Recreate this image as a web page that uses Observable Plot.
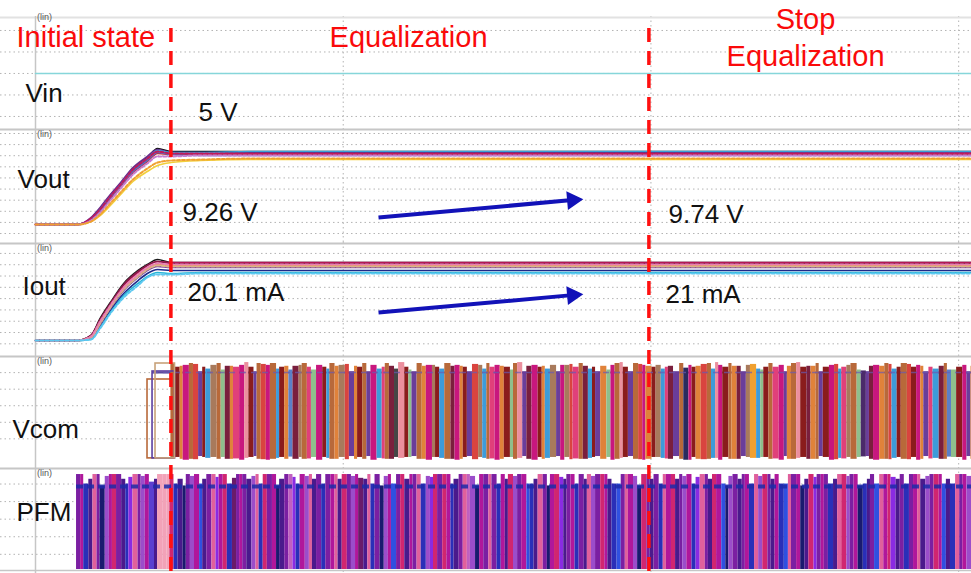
<!DOCTYPE html>
<html><head><meta charset="utf-8">
<script src="https://cdn.jsdelivr.net/npm/d3@7"></script>
<script src="https://cdn.jsdelivr.net/npm/@observablehq/plot@0.6"></script>
<style>
html,body{margin:0;padding:0;background:#fff;overflow:hidden;}
#chart svg{display:block;}
</style></head><body><div id="chart"></div>
<script>
// ================= DATA =================
// time axis: arbitrary units, 300 per vertical grid division
const tEnd = 912.5;
const timeGrid = [300, 600, 900];
const events = [132, 598];               // start / stop of equalization

// --- Vin (V)
const vinT = [0, 912.5];
const vinV = [5, 5];
const vinGrid = [1, 3, 5, 7, 9];

// --- Vout (V), one row per simulated cell
const voutT = [0, 41, 54, 63, 73, 83, 95, 109, 119, 132, 161, 210, 600, 912.5];
const voutColors = ["#141414", "#1f2a8a", "#6b2d8e", "#c2185b", "#c62828", "#5c6bc0", "#c77dd0", "#f0a030", "#f2cf3a", "#3ba0d8"];
const voutValues = [
  [4.61, 4.61, 5.03, 5.74, 6.65, 7.49, 8.54, 9.31, 9.95, 9.74, 9.74, 9.74, 9.74, 9.74],
  [4.61, 4.61, 4.96, 5.60, 6.51, 7.35, 8.40, 9.17, 9.81, 9.67, 9.67, 9.67, 9.67, 9.67],
  [4.61, 4.61, 5.10, 5.81, 6.72, 7.56, 8.61, 9.39, 9.88, 9.67, 9.60, 9.60, 9.60, 9.67],
  [4.61, 4.61, 5.03, 5.67, 6.58, 7.42, 8.47, 9.24, 9.74, 9.60, 9.60, 9.60, 9.60, 9.60],
  [4.61, 4.61, 4.96, 5.53, 6.44, 7.28, 8.26, 9.03, 9.60, 9.53, 9.53, 9.53, 9.53, 9.53],
  [4.61, 4.61, 4.96, 5.60, 6.51, 7.35, 8.33, 9.10, 9.67, 9.53, 9.46, 9.46, 9.46, 9.46],
  [4.61, 4.61, 4.89, 5.46, 6.30, 7.14, 8.12, 8.89, 9.39, 9.39, 9.46, 9.46, 9.46, 9.46],
  [4.61, 4.61, 4.82, 5.31, 6.09, 6.86, 7.77, 8.54, 8.96, 9.10, 9.17, 9.24, 9.24, 9.24],
  [4.61, 4.61, 4.82, 5.24, 5.95, 6.72, 7.63, 8.33, 8.75, 8.96, 9.10, 9.17, 9.17, 9.17],
  [4.61, 4.61, 4.96, 5.67, 6.58, 7.42, 8.47, 9.24, 9.81, 9.67, 9.67, 9.74, 9.74, 9.74]
];
const voutGrid = [3.98, 4.76, 5.54, 6.32, 7.10, 7.88, 8.66, 9.44, 10.22, 11.0];

// --- Iout (mA)
const ioutT = [0, 41, 54, 63, 73, 86, 100, 109, 119, 132, 161, 210, 600, 912.5];
const ioutColors = ["#1a1a1a", "#c2185b", "#8b1a4a", "#f0a030", "#d8b486", "#e77fb3", "#1f2a8a", "#27b4d6", "#5cc8f0", "#7b3f9e"];
const ioutValues = [
  [0, 0, 1.31, 5.83, 10.07, 15.12, 18.57, 20.16, 21.49, 20.69, 20.69, 20.69, 20.69, 20.69],
  [0, 0, 1.05, 5.29, 9.54, 14.59, 18.04, 19.89, 20.96, 20.69, 20.69, 20.69, 20.69, 20.69],
  [0, 0, 1.31, 5.56, 9.81, 14.85, 18.30, 19.89, 20.96, 20.43, 20.43, 20.43, 20.43, 20.43],
  [0, 0, 0.78, 4.76, 9.01, 13.79, 17.24, 19.10, 20.16, 19.89, 19.89, 19.89, 19.89, 19.89],
  [0, 0, 0.78, 4.50, 8.74, 13.52, 16.97, 18.83, 19.89, 19.63, 19.63, 19.63, 19.63, 19.63],
  [0, 0, 1.05, 5.03, 9.28, 14.05, 17.51, 19.36, 20.43, 20.16, 20.16, 20.16, 20.16, 20.16],
  [0, 0, 0.52, 3.97, 7.95, 12.46, 15.91, 17.77, 18.83, 18.57, 18.57, 18.57, 18.57, 18.57],
  [0, 0, 0.25, 3.44, 7.42, 11.93, 15.12, 16.97, 18.04, 17.77, 18.04, 18.04, 18.04, 18.04],
  [0, 0, 0.25, 3.17, 7.15, 11.40, 14.59, 16.71, 17.51, 17.51, 17.77, 17.77, 17.77, 17.77],
  [0, 0, 0.52, 4.23, 8.48, 13.26, 16.71, 18.57, 19.63, 19.36, 19.36, 19.36, 19.36, 19.36]
];
const ioutGrid = [-0.9, 2.1, 5.1, 8.1, 11.1, 14.1, 17.1, 20.1, 23.1];

// --- Vcom (V): switching pulses, one trace key per pulse
const vcomKeys   = ["a","b","c","d","e","f","g","h","i","j","k","l","m","n","o","p","q","r"];
const vcomColors = ["#b8693a","#8a1c1c","#c8177e","#6a3d9a","#3d9bd9","#e0823a","#8fbf8c","#d9443f","#4b2a6b","#eb8f9e","#2b2b5e","#a87a5c","#e0407a","#5b7fc7","#7a1f3d","#f0a030","#454545","#9c6ad0"];
const vcomHigh   = [5.05, 4.85, 4.95, 4.6, 4.75, 4.9, 4.7, 5.0, 4.65, 5.1, 4.8, 4.95, 4.85, 4.7, 4.9, 5.0, 4.75, 4.8];
const vcomLow    = [-0.1, 0.0, -0.15, 0.05, -0.05, -0.1, 0.0, -0.12, 0.03, -0.05, -0.15, 0.0, -0.08, 0.02, -0.1, -0.05, 0.0, -0.12];
const vcomStart = 132;
const vcomSeq = ("abfcahdbelagofmcjbda" + "hcaebfnolamgcbeaflhd" + "fbadcemaoqjbgdafclbe" + "aocfbdhleamcfbgajdoc" +
                 "bfeldclhmaoebdfgcajb" + "dahcfblemodakcbfhaej" + "cbafodlpegbamcdfajbo" + "fadbchemlagidocfaheb" +
                 "ahbcfdmeoangbcdfhjab").split("");
const vcomWidths = [
  4,5,3,6,4,5,4,3,5,6,4,4,5,3,6,5,4,5,3,4,
  5,4,6,3,5,4,4,6,3,5,4,5,6,4,3,5,4,6,4,5,
  3,5,4,4,6,5,3,4,5,4,6,4,3,5,5,4,6,3,4,5,
  6,4,5,3,4,5,6,4,4,3,5,5,4,6,3,4,5,4,5,6,
  4,3,5,6,4,4,5,3,6,4,5,4,3,5,6,4,4,5,3,5,
  5,5,4,3,6,4,5,4,3,5,6,4,5,3,4,5,6,4,4,3,
  4,6,3,5,4,5,4,6,4,3,5,4,6,5,3,4,5,4,6,4,
  5,3,4,6,5,4,3,5,4,6,4,5,3,4,6,5,4,3,5,4,
  6,4,5,4,3,5,4,6,5,3,4,5,6,4,4,5,3,6,4,5
];
// first (wide) pulses before equalization starts
const vcomEarlyT1 = [109.2, 114.1, 117.0];
const vcomEarlyT2 = [134, 136, 136];
const vcomEarlyHigh = [4.19, 4.62, 5.05];
const vcomEarlyColor = ["#b8693a", "#5b3fa0", "#c8a27a"];
const vcomLevel = 4.57;
const vcomGrid = [1.0, 1.89, 2.78, 3.67, 4.56];

// --- PFM (logic level)
const pfmKeys   = ["a","b","c","d","e","f","g","h","i","j","k","l","m","n"];
const pfmColors = ["#7b1fa2","#2a2fb8","#b0179b","#4a1a8c","#e0609c","#1a1a6e","#9b4dca","#d02670","#5a3fd0","#f2a2b8","#8a2be2","#c060c0","#3050e0","#6a1b6a"];
const pfmHigh   = [1.0, 0.9, 1.0, 0.95, 1.0, 0.88, 0.98, 1.0, 0.92, 1.0, 0.97, 1.0, 0.9, 0.96];
const pfmStart = 40;
const pfmSeq = ("acbdeafgchadbkeagcid" + "jjjhbdfagcmdaekchbna" + "cadgebhacfdalkbcgeda" + "bacedhagcndebafgcmah" +
                "dcaebgkhahcbdaelgfca" + "eabcdhgacmbdeafchkda" + "cbadegahcdbmaecgfhad" + "abechdagcbkeadhcmfga" +
                "dacbeghadcbmeacfdhka" + "cabdehgacfbdamechkda" + "bacedgahcmdbeacgfhda").split("");
const pfmWidths = [
  4,3,5,4,4,3,5,4,3,4,5,4,3,4,5,3,4,4,5,3,
  5,4,3,4,4,5,3,4,4,5,3,4,5,4,3,4,4,5,4,3,
  3,4,5,4,3,4,4,5,4,3,5,4,4,3,4,5,4,3,4,5,
  4,5,4,3,4,5,4,4,3,5,4,3,4,5,4,4,3,5,4,4,
  5,3,4,4,5,4,3,4,5,4,4,3,5,4,4,3,5,4,4,5,
  3,5,4,4,3,5,4,4,5,3,4,4,5,4,3,4,5,4,3,4,
  4,4,5,3,4,4,5,4,3,4,5,4,4,3,5,4,4,5,3,4,
  5,4,3,5,4,4,3,4,5,4,4,5,3,4,4,5,4,3,4,5,
  4,3,4,5,4,4,5,3,4,4,5,4,3,5,4,4,4,5,3,4,
  3,4,5,4,4,5,3,4,4,5,4,3,4,5,4,4,3,5,4,4,
  5,4,4,3,5,4,4,5,3,4,4,5,4,3,4,5,4,4,3,5
];
const pfmLevel = 0.874;
const pfmGrid = [0.16, 0.345, 0.53, 0.715, 0.9];

// --- annotations [text, t, value]
const headerLabels = [["Initial state", -18.5, 7.42, "start"], ["Equalization", 363.7, 7.42, "middle"], ["Stop", 750.7, 9.18, "middle"], ["Equalization", 750.7, 5.74, "middle"]];
const vinLabels  = [["Vin", -9.75, 2.30], ["5 V", 158.9, 0.55]];
const voutLabels = [["Vout", -17.5, 7.14], ["9.26 V", 143.3, 4.89], ["9.74 V", 617.1, 4.75]];
const ioutLabels = [["Iout", -12.7, 11.93], ["20.1 mA", 148.2, 10.6], ["21 mA", 614.2, 9.81]];
const vcomLabels = [["Vcom", -22.4, 1.07]];
const pfmLabels  = [["PFM", -18.5, 0.516]];
const voutArrow = [334.4, 5.105, 530.4, 6.37];
const ioutArrow = [334.4, 7.42, 530.4, 12.2];

// ================= DRAWING =================
const FONT = "'Liberation Sans', Arial, Helvetica, sans-serif";
const GRID = "#b3b3b3", BORDER = "#c6c6c6", RED = "#ff1010", BLUE = "#1212b8";
const DASH = "14,9";

function series(T, values, colors) {
  return values.flatMap((vals, i) => vals.map((v, j) => ({t: T[j], v, s: i, color: colors[i]})));
}
function stripes(start, seq, widths, keys, colors, highs, lows) {
  const out = []; let t = start;
  const n = Math.min(seq.length, widths.length);
  for (let i = 0; i < n; i++) {
    const k = keys.indexOf(seq[i]);
    out.push({t1: t, t2: t + widths[i], fill: colors[k], hi: highs[k], lo: lows ? lows[k] : 0});
    t += widths[i];
  }
  return out;
}
function labelMarks(list, size, fill, anchorDefault = "start") {
  return list.map(([txt, t, v, anchor]) => Plot.text([txt], {x: [t], y: [v], text: d => d,
    textAnchor: anchor || anchorDefault, lineAnchor: "bottom", fontSize: size, fill, fontFamily: FONT}));
}
function arrowMarks(a) {
  const [t1, v1, t2, v2] = a;
  return [
    Plot.link([0], {x1: [t1], y1: [v1], x2: [t2 - (t2 - t1) * 0.05], y2: [v2 - (v2 - v1) * 0.05], stroke: BLUE, strokeWidth: 4}),
    Plot.dot([0], {x: [t2 - (t2 - t1) * 0.035], y: [v2 - (v2 - v1) * 0.035], symbol: "triangle", r: 6, rotate: 85,
      fill: BLUE, stroke: BLUE, strokeWidth: 1.5})
  ];
}
function panel({height, marginTop = 0, domain, grid, dashOffset, dashY, linV, marks}) {
  const top = domain[1];
  return Plot.plot({
    width: 971, height, marginTop, marginBottom: 0, marginLeft: 0, marginRight: 0,
    x: {domain: [0, tEnd], range: [35, 971], axis: null},
    y: {domain, axis: null},
    color: {type: "identity"},
    style: {background: "#fff", fontFamily: FONT},
    marks: [
      Plot.ruleY(grid, {stroke: GRID, strokeDasharray: "1.5,3"}),
      Plot.ruleX(timeGrid, {stroke: GRID, strokeDasharray: "1.5,3"}),
      Plot.ruleY([top], {stroke: marginTop ? "#e2e2e2" : BORDER, strokeWidth: 2, dy: 1}),
      Plot.ruleX([0], {stroke: BORDER, strokeWidth: 1.5}),
      Plot.text(["(lin)"], {x: [1.5], y: [linV], text: d => d, textAnchor: "start", fontSize: 9, fill: "#555", fontFamily: FONT}),
      ...marks,
      dashY
        ? Plot.ruleX(events, {y1: dashY[0], y2: dashY[1], stroke: RED, strokeWidth: 3.5, strokeDasharray: DASH, strokeDashoffset: dashOffset})
        : Plot.ruleX(events, {stroke: RED, strokeWidth: 3.5, strokeDasharray: DASH, strokeDashoffset: dashOffset})
    ]
  });
}

const voutData = series(voutT, voutValues, voutColors);
const ioutData = series(ioutT, ioutValues, ioutColors);
const dottedVout = new Set([3, 6, 7]);
const dottedIout = new Set([4, 5, 8]);
const vcomData = stripes(vcomStart, vcomSeq, vcomWidths, vcomKeys, vcomColors, vcomHigh, vcomLow);
const pfmData = stripes(pfmStart, pfmSeq, pfmWidths, pfmKeys, pfmColors, pfmHigh, null);
const early = vcomEarlyT1.map((t1, i) => ({t1, t2: vcomEarlyT2[i], hi: vcomEarlyHigh[i], color: vcomEarlyColor[i]}));

const root = document.getElementById("chart");

// Panel 1 : Vin (+ header)
root.append(panel({
  height: 128, marginTop: 16, domain: [-0.12, 10.3], grid: vinGrid, dashOffset: 0, dashY: [9.18, -0.12], linV: 10.24,
  marks: [
    Plot.line(vinT.map((t, i) => ({t, v: vinV[i]})), {x: "t", y: "v", stroke: "#86d6da", strokeWidth: 1.6}),
    ...labelMarks(headerLabels, 29, "#fa0a0a"),
    ...labelMarks(vinLabels, 26, "#111")
  ]
}));

// Panel 2 : Vout
root.append(panel({
  height: 114, domain: [3.35, 11.35], grid: voutGrid, dashOffset: 8, linV: 10.93,
  marks: [
    Plot.line(voutData.filter(d => !dottedVout.has(d.s)), {x: "t", y: "v", z: "s", stroke: "color", strokeWidth: 1.6, curve: "monotone-x"}),
    Plot.line(voutData.filter(d => dottedVout.has(d.s)), {x: "t", y: "v", z: "s", stroke: "color", strokeWidth: 2, strokeDasharray: "3,2", curve: "monotone-x"}),
    ...labelMarks(voutLabels, 26, "#111"),
    ...arrowMarks(voutArrow)
  ]
}));

// Panel 3 : Iout
root.append(panel({
  height: 113, domain: [-4, 26], grid: ioutGrid, dashOffset: 7, linV: 24.4,
  marks: [
    Plot.line(ioutData.filter(d => !dottedIout.has(d.s)), {x: "t", y: "v", z: "s", stroke: "color", strokeWidth: 1.6, curve: "monotone-x"}),
    Plot.line(ioutData.filter(d => dottedIout.has(d.s)), {x: "t", y: "v", z: "s", stroke: "color", strokeWidth: 2, strokeDasharray: "3,2", curve: "monotone-x"}),
    ...labelMarks(ioutLabels, 26, "#111"),
    ...arrowMarks(ioutArrow)
  ]
}));

// Panel 4 : Vcom
root.append(panel({
  height: 112, domain: [-0.54, 5.48], grid: vcomGrid, dashOffset: 5, linV: 5.16,
  marks: [
    Plot.ruleY([vcomLevel], {x1: vcomEarlyT1[1], x2: tEnd, stroke: "#5b4a9e", strokeWidth: 2}),
    Plot.rect(vcomData, {x1: "t1", x2: "t2", y1: "lo", y2: "hi", fill: "fill"}),
    Plot.ruleY([vcomLevel], {x1: vcomEarlyT1[1], x2: tEnd, stroke: "#6a5ab0", strokeWidth: 1.5, strokeDasharray: "6,5", strokeOpacity: 0.7}),
    Plot.rect(early, {x1: "t1", x2: "t2", y1: -0.05, y2: "hi", fill: "none", stroke: "color", strokeWidth: 1.6}),
    ...labelMarks(vcomLabels, 26, "#111")
  ]
}));

// Panel 5 : PFM
root.append(panel({
  height: 106, domain: [-0.042, 1.074], grid: pfmGrid, dashOffset: 2, linV: 1.01,
  marks: [
    Plot.rect(pfmData, {x1: "t1", x2: "t2", y1: 0, y2: "hi", fill: "fill"}),
    Plot.ruleY([pfmLevel], {x1: pfmStart, x2: tEnd, stroke: "#1c2aa8", strokeWidth: 4, strokeDasharray: "7,4", strokeOpacity: 0.85}),
    Plot.ruleY([-0.01], {stroke: BORDER, strokeWidth: 1.5}),
    ...labelMarks(pfmLabels, 26, "#111")
  ]
}));
</script></body></html>
